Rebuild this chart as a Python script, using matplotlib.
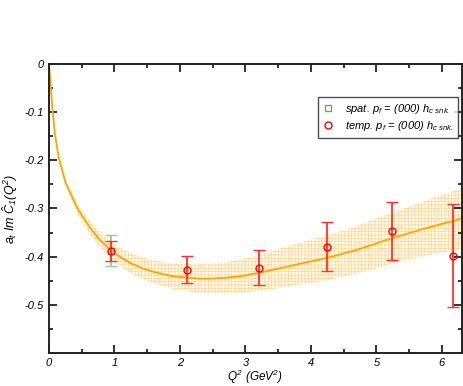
import matplotlib
matplotlib.use("Agg")
import matplotlib.pyplot as plt
from matplotlib.ticker import MultipleLocator
from matplotlib.lines import Line2D
import numpy as np

# ---- data ----
curve_q2 = [0.0, 0.025, 0.04, 0.05, 0.09, 0.15, 0.25, 0.43, 0.61, 0.76, 0.94,
            1.1, 1.25, 1.44, 1.6, 1.85, 2.05, 2.3, 2.46, 2.7, 2.92, 3.2, 3.5, 3.83,
            4.24, 4.7, 5.21, 5.7, 6.0, 6.3]
curve_val = [0.0, -0.040, -0.070, -0.090, -0.145, -0.195, -0.245, -0.299, -0.337,
             -0.363, -0.386, -0.402, -0.414, -0.425, -0.432, -0.440, -0.443, -0.446,
             -0.446, -0.444, -0.441, -0.434, -0.425, -0.415, -0.403, -0.386, -0.363,
             -0.343, -0.332, -0.321]
curve_err = [0.0, 0.001, 0.002, 0.003, 0.004, 0.005, 0.007, 0.011, 0.014, 0.016,
             0.018, 0.019, 0.021, 0.023, 0.024, 0.026, 0.027, 0.030, 0.031, 0.033,
             0.035, 0.037, 0.041, 0.044, 0.047, 0.050, 0.053, 0.057, 0.060, 0.063]

spat_q2 = [0.94]
spat_val = [-0.388]
spat_err = [0.032]

temp_q2 = [0.94, 2.10, 3.20, 4.24, 5.23, 6.17]
temp_val = [-0.389, -0.427, -0.423, -0.380, -0.347, -0.398]
temp_err = [0.021, 0.028, 0.037, 0.051, 0.060, 0.107]

xticks = [0, 1, 2, 3, 4, 5, 6]
yticks = [0, -0.1, -0.2, -0.3, -0.4, -0.5]
ytick_labels = ["0", "-0.1", "-0.2", "-0.3", "-0.4", "-0.5"]

# ---- style ----
plt.rcParams['font.family'] = ['Liberation Sans', 'DejaVu Sans']
plt.rcParams['font.style'] = 'italic'
plt.rcParams['mathtext.fontset'] = 'custom'
plt.rcParams['mathtext.it'] = 'Liberation Sans:italic'
plt.rcParams['mathtext.rm'] = 'Liberation Sans:italic'
plt.rcParams['mathtext.sf'] = 'Liberation Sans:italic'
plt.rcParams['hatch.linewidth'] = 0.5

fig = plt.figure(figsize=(4.63, 3.86), dpi=100)
ax = fig.add_axes([0.1058, 0.0863, 0.8912, 0.7471])

cq = np.array(curve_q2)
cv = np.array(curve_val)
ce = np.array(curve_err)
ax.fill_between(cq, cv - ce, cv + ce, facecolor='#fffaf0', edgecolor='#ffd68c',
                hatch='+++++', linewidth=0, zorder=1)
ax.plot(cq, cv, color='#ffa500', lw=1.3, zorder=2, solid_joinstyle='round')

ax.errorbar(spat_q2, spat_val, yerr=spat_err, fmt='s', mfc='none', mec='#5fb35f',
            ms=4, mew=1.0, ecolor='#8fcf8f', elinewidth=1.3, capsize=4, capthick=1.3,
            zorder=3)
ax.errorbar(temp_q2, temp_val, yerr=temp_err, fmt='o', mfc='none', mec='#ff0000',
            ms=5, mew=1.0, ecolor='#ff3030', elinewidth=1.3, capsize=4, capthick=1.3,
            zorder=4)

ax.set_xlim(0, 6.3)
ax.set_ylim(-0.6, 0)
ax.set_xticks(xticks)
ax.set_xticklabels([str(v) for v in xticks])
ax.set_yticks(yticks)
ax.set_yticklabels(ytick_labels)
ax.xaxis.set_minor_locator(MultipleLocator(0.5))
ax.yaxis.set_minor_locator(MultipleLocator(0.05))
ax.tick_params(which='both', direction='in', top=True, right=True,
               labelsize=8, width=1.3, color='#222222', pad=4)
ax.tick_params(which='major', length=6)
ax.tick_params(which='minor', length=3)
for s in ax.spines.values():
    s.set_linewidth(1.4)
    s.set_color('#222222')

ax.set_xlabel(r"$Q^2$ (GeV$^2$)", fontsize=8.5, labelpad=0)
ax.set_ylabel(r"$a_t\ Im\ \hat{C}_1(Q^2)$", fontsize=9, labelpad=3)

handles = [Line2D([], [], ls='none', marker='s', mfc='none', mec='#5fb35f', ms=4, mew=1.0),
           Line2D([], [], ls='none', marker='o', mfc='none', mec='#ff0000', ms=5, mew=1.0)]
labels = [r"spat. $p_f$ = (000) $h_{c\ snk.}$", r"temp. $p_f$ = (000) $h_{c\ snk.}$"]
leg = ax.legend(handles, labels, loc='upper right', bbox_to_anchor=(0.992, 0.885),
                fontsize=8, frameon=True, fancybox=False, handlelength=1.0,
                borderpad=0.4, labelspacing=0.3, handletextpad=1.0,
                borderaxespad=0)
leg.get_frame().set_edgecolor('#222222')
leg.get_frame().set_linewidth(1.0)

fig.savefig("out.png", dpi=100)
